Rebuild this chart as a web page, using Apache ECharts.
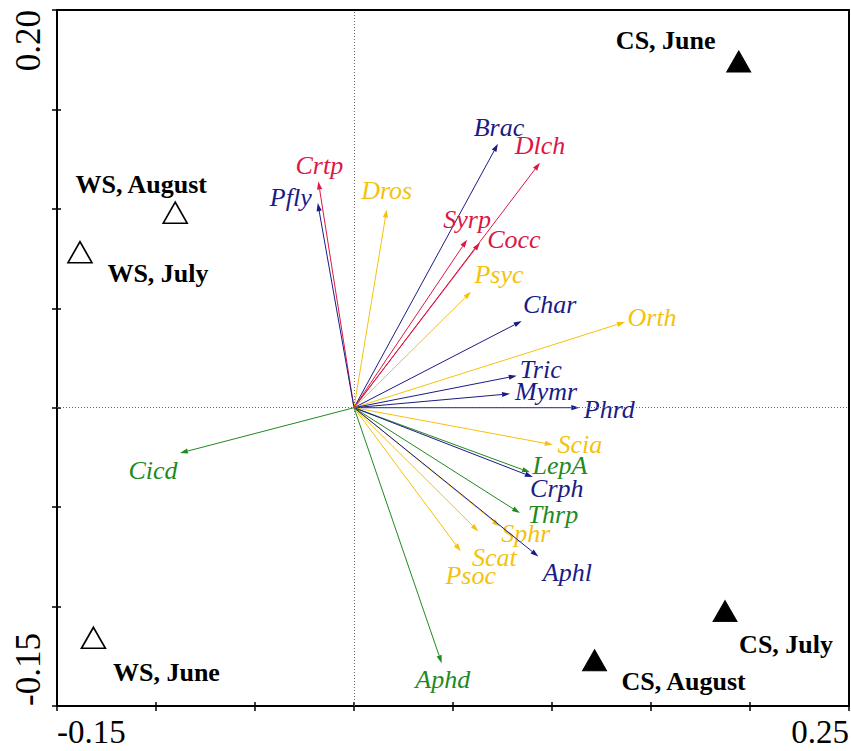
<!DOCTYPE html>
<html>
<head>
<meta charset="utf-8">
<script src="https://cdn.jsdelivr.net/npm/echarts@6/dist/echarts.min.js"></script>
<style>
  html, body { margin: 0; padding: 0; background: #ffffff; }
  #chart { width: 851px; height: 751px; }
</style>
</head>
<body>
<div id="chart"></div>
<script>
// ---------------- DATA ----------------
// Species vectors (arrow tips)
const speciesNames = ['Crtp','Pfly','Dros','Brac','Dlch','Syrp','Cocc','Psyc','Char','Orth','Tric','Mymr','Phrd','Scia','LepA','Crph','Thrp','Sphr','Scat','Psoc','Aphl','Aphd','Cicd'];
const speciesX = [-0.0180,-0.0183,0.0165,0.0727,0.0939,0.0571,0.0636,0.0591,0.0847,0.1369,0.0822,0.0788,0.1138,0.1004,0.0889,0.0903,0.0838,0.0737,0.0628,0.0539,0.0931,0.0443,-0.0879];
const speciesY = [0.1138,0.1029,0.0996,0.1327,0.1232,0.0845,0.0830,0.0583,0.0436,0.0431,0.0161,0.0070,0.0000,-0.0186,-0.0325,-0.0349,-0.0530,-0.0597,-0.0622,-0.0722,-0.0748,-0.1285,-0.0228];
const speciesGroup = ['red','navy','gold','navy','red','red','red','gold','navy','gold','navy','navy','navy','gold','green','navy','green','gold','gold','gold','navy','green','green'];

// Sites
const siteNames = ['WS, August','WS, July','WS, June','CS, June','CS, July','CS, August'];
const siteX = [-0.0903,-0.1384,-0.1316,0.1943,0.1874,0.1215];
const siteY = [0.0981,0.0782,-0.1157,0.1741,-0.1023,-0.1270];
const siteFilled = [false,false,false,true,true,true];

// Axis tick labels (only the ends are labelled)
const xTickValues = [-0.15, 0.25];
const xTickLabels = ['-0.15', '0.25'];
const yTickValues = [-0.15, 0.20];
const yTickLabels = ['-0.15', '0.20'];

// ---------------- STYLE ----------------
const groupColors = { navy: '#1b1b86', red: '#dc1744', gold: '#f4c20d', green: '#1f8a1f' };
const speciesLabelOffsets = [
  [1,-16],[-27,-6],[0,-19],[1,-16],[0,-17],[0,-20],[34,-3],[28,-17],[28,-17],[27,-5],
  [24,-6],[36,-2],[30,2],[27,0],[30,-7],[24,11],[33,1],[26,7],[16,26],[10,24],
  [29,16],[1,16],[-27,17]
];
const siteLabelOffsets = [[-34,-28],[78,21],[73,35],[-73,-21],[61,33],[89,21]];
const SERIF = '"Liberation Serif", "Times New Roman", serif';

function tickFormatter(values, labels) {
  return function (v) {
    for (let i = 0; i < values.length; i++) {
      if (Math.abs(v - values[i]) < 1e-9) return labels[i];
    }
    return '';
  };
}

const speciesData = speciesNames.map((n, i) => ({ name: n, value: [speciesX[i], speciesY[i]] }));
const siteData = siteNames.map((n, i) => ({
  name: n,
  value: [siteX[i], siteY[i]],
  itemStyle: siteFilled[i]
    ? { color: '#000', borderColor: '#000', borderWidth: 1, opacity: 1 }
    : { color: '#fff', borderColor: '#000', borderWidth: 1.6, opacity: 1 },
  label: { offset: siteLabelOffsets[i] }
}));

const chart = echarts.init(document.getElementById('chart'), null, { renderer: 'svg' });

const option = {
  backgroundColor: '#ffffff',
  animation: false,
  grid: {
    left: 57, top: 10, right: 2, bottom: 45,
    show: true, borderColor: '#000', borderWidth: 2,
    outerBoundsMode: 'none'
  },
  xAxis: [
    {
      type: 'value', min: -0.15, max: 0.25, interval: 0.05, position: 'bottom',
      axisLine: { show: true, onZero: false, lineStyle: { color: '#000', width: 2 } },
      axisTick: { show: true, inside: false, length: 5, lineStyle: { color: '#000', width: 1.5 } },
      axisLabel: {
        show: true, color: '#000', fontSize: 33, fontFamily: SERIF, margin: 9,
        formatter: tickFormatter(xTickValues, xTickLabels),
        alignMinLabel: 'left', alignMaxLabel: 'right'
      },
      splitLine: { show: false }
    },
    {
      type: 'value', min: -0.15, max: 0.25, interval: 0.05, position: 'bottom', offset: 0,
      axisLine: { show: false, onZero: false },
      axisTick: { show: true, inside: true, length: 4, lineStyle: { color: '#000', width: 1.5 } },
      axisLabel: { show: false },
      splitLine: { show: false }
    }
  ],
  yAxis: [
    {
      type: 'value', min: -0.15, max: 0.20, interval: 0.05, position: 'left',
      axisLine: { show: true, onZero: false, lineStyle: { color: '#000', width: 2 } },
      axisTick: { show: true, inside: false, length: 5, lineStyle: { color: '#000', width: 1.5 } },
      axisLabel: {
        show: true, color: '#000', fontSize: 35, fontFamily: SERIF, margin: 11, rotate: 90,
        formatter: tickFormatter(yTickValues, yTickLabels),
        alignMinLabel: 'left', alignMaxLabel: 'right'
      },
      splitLine: { show: false }
    },
    {
      type: 'value', min: -0.15, max: 0.20, interval: 0.05, position: 'left', offset: 0,
      axisLine: { show: false, onZero: false },
      axisTick: { show: true, inside: true, length: 4, lineStyle: { color: '#000', width: 1.5 } },
      axisLabel: { show: false },
      splitLine: { show: false }
    }
  ],
  series: [
    {
      type: 'scatter',
      xAxisIndex: 0, yAxisIndex: 0,
      data: [],
      silent: true,
      markLine: {
        silent: true,
        symbol: ['none', 'none'],
        label: { show: false },
        lineStyle: { color: '#666', type: [1, 2], width: 1 },
        data: [{ xAxis: 0 }, { yAxis: 0 }],
        animation: false
      }
    },
    {
      type: 'custom',
      xAxisIndex: 0, yAxisIndex: 0,
      data: speciesData,
      encode: { x: 0, y: 1 },
      silent: true,
      renderItem: function (params, api) {
        const i = params.dataIndex;
        const color = groupColors[speciesGroup[i]];
        const p0 = api.coord([0, 0]);
        const p1 = api.coord([api.value(0), api.value(1)]);
        const dx = p1[0] - p0[0], dy = p1[1] - p0[1];
        const len = Math.sqrt(dx * dx + dy * dy) || 1;
        const ux = dx / len, uy = dy / len;
        const hl = 8, hw = 2.6;
        const bx = p1[0] - ux * hl, by = p1[1] - uy * hl;
        const nx = -uy, ny = ux;
        const off = speciesLabelOffsets[i];
        return {
          type: 'group',
          children: [
            { type: 'line', shape: { x1: p0[0], y1: p0[1], x2: bx, y2: by },
              style: { stroke: color, lineWidth: 1 } },
            { type: 'polygon',
              shape: { points: [[p1[0], p1[1]], [bx + nx * hw, by + ny * hw], [bx - nx * hw, by - ny * hw]] },
              style: { fill: color } },
            { type: 'text', x: p1[0] + off[0], y: p1[1] + off[1],
              style: { text: speciesNames[i], fill: color, fontStyle: 'italic', fontSize: 26,
                       fontFamily: SERIF, align: 'center', verticalAlign: 'middle' } }
          ]
        };
      }
    },
    {
      type: 'scatter',
      xAxisIndex: 0, yAxisIndex: 0,
      data: siteData,
      symbol: 'triangle',
      symbolSize: [24, 21],
      silent: true,
      itemStyle: { opacity: 1 },
      label: {
        show: true, position: 'inside', formatter: '{b}',
        color: '#000', opacity: 1, fontSize: 26, fontWeight: 'bold', fontFamily: SERIF,
        align: 'center', verticalAlign: 'middle'
      }
    }
  ]
};
chart.setOption(option);
</script>
</body>
</html>
